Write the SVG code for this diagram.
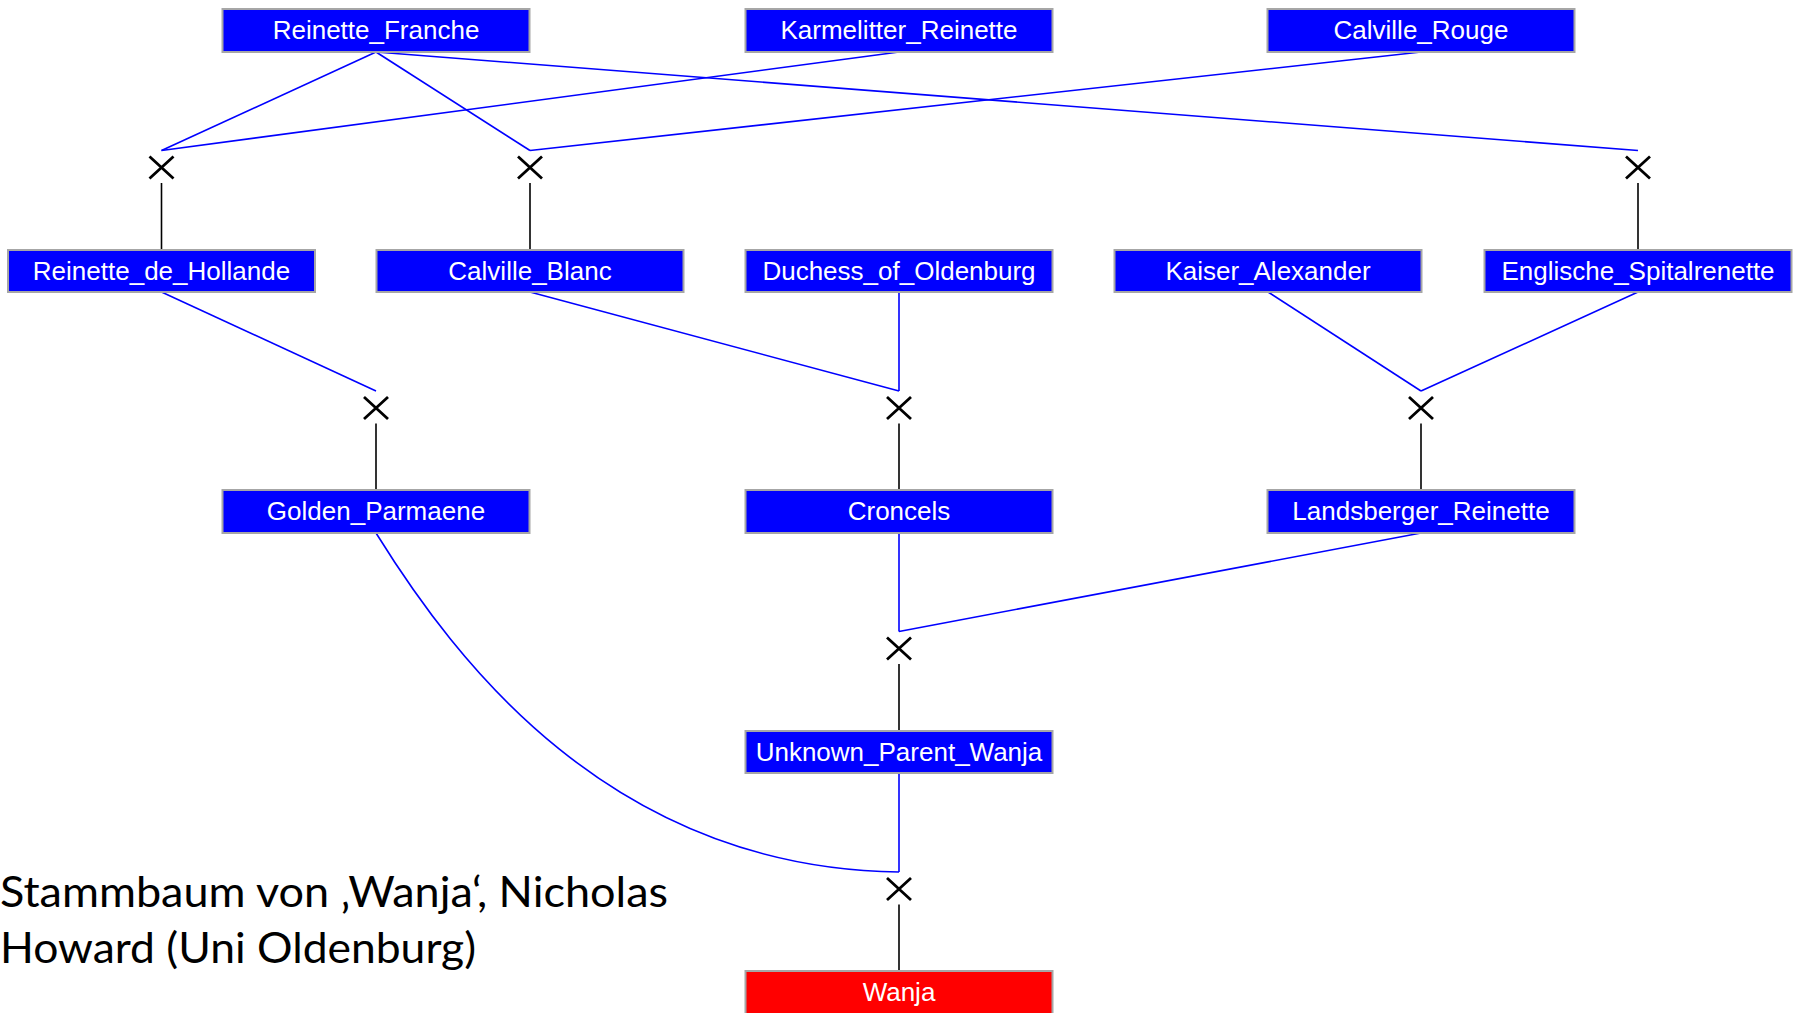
<svg xmlns="http://www.w3.org/2000/svg" width="1796" height="1013" viewBox="0 0 1796 1013">
<defs>
<style>
.box{fill:#0000ff;stroke:#a6a6a6;stroke-width:2}
.red{fill:#ff0000;stroke:#a6a6a6;stroke-width:2}
.lbl{font-family:"Liberation Sans",Arial,sans-serif;font-size:26px;fill:#ffffff;text-anchor:middle}
.blue{stroke:#0000ff;stroke-width:1.6;fill:none}
.blk{stroke:#000000;stroke-width:1.6;fill:none}
.x{stroke:#000000;stroke-width:2.8;fill:none}
.cap{font-family:Lato,"Open Sans",sans-serif;font-size:42px;fill:#000000}
</style>
<g id="xmark"><path class="x" d="M-12,-11 L12,11 M12,-11 L-12,11"/></g>
</defs>
<rect width="1796" height="1013" fill="#ffffff"/>
<g id="connectors">
<path class="blue" d="M376,52 L161.5,150.5"/>
<path class="blue" d="M899,52 L161.5,150.5"/>
<path class="blue" d="M376,52 L530,150.5"/>
<path class="blue" d="M1421,52 L530,150.5"/>
<path class="blue" d="M376,52 L1638,150.5"/>
<path class="blk" d="M161.5,183 V250"/>
<path class="blk" d="M530,183 V250"/>
<path class="blk" d="M1638,183 V250"/>
<path class="blue" d="M161.5,292 L376,391"/>
<path class="blue" d="M530,292 L899,391"/>
<path class="blue" d="M899,292 L899,391"/>
<path class="blue" d="M1268,292 L1421,391"/>
<path class="blue" d="M1638,292 L1421,391"/>
<path class="blk" d="M376,423.5 V490"/>
<path class="blk" d="M899,423.5 V490"/>
<path class="blk" d="M1421,423.5 V490"/>
<path class="blue" d="M899,533 L899,631.5"/>
<path class="blue" d="M1421,533 L899,631.5"/>
<path class="blk" d="M899,664 V731"/>
<path class="blue" d="M899,773 L899,872"/>
<path class="blue" d="M376,533 C455,660 610,868 899,872"/>
<path class="blk" d="M899,904.5 V971"/>
</g>
<g id="crosses">
<use href="#xmark" x="161.5" y="167.5"/>
<use href="#xmark" x="530" y="167.5"/>
<use href="#xmark" x="1638" y="167.5"/>
<use href="#xmark" x="376" y="408"/>
<use href="#xmark" x="899" y="408"/>
<use href="#xmark" x="1421" y="408"/>
<use href="#xmark" x="899" y="648.5"/>
<use href="#xmark" x="899" y="889"/>
</g>
<g id="Reinette_Franche"><rect class="box" x="222.5" y="9" width="307" height="43"/><text class="lbl" x="376" y="39">Reinette_Franche</text></g>
<g id="Karmelitter_Reinette"><rect class="box" x="745.5" y="9" width="307" height="43"/><text class="lbl" x="899" y="39">Karmelitter_Reinette</text></g>
<g id="Calville_Rouge"><rect class="box" x="1267.5" y="9" width="307" height="43"/><text class="lbl" x="1421" y="39">Calville_Rouge</text></g>
<g id="Reinette_de_Hollande"><rect class="box" x="8" y="250" width="307" height="42"/><text class="lbl" x="161.5" y="280">Reinette_de_Hollande</text></g>
<g id="Calville_Blanc"><rect class="box" x="376.5" y="250" width="307" height="42"/><text class="lbl" x="530" y="280">Calville_Blanc</text></g>
<g id="Duchess_of_Oldenburg"><rect class="box" x="745.5" y="250" width="307" height="42"/><text class="lbl" x="899" y="280">Duchess_of_Oldenburg</text></g>
<g id="Kaiser_Alexander"><rect class="box" x="1114.5" y="250" width="307" height="42"/><text class="lbl" x="1268" y="280">Kaiser_Alexander</text></g>
<g id="Englische_Spitalrenette"><rect class="box" x="1484.5" y="250" width="307" height="42"/><text class="lbl" x="1638" y="280">Englische_Spitalrenette</text></g>
<g id="Golden_Parmaene"><rect class="box" x="222.5" y="490" width="307" height="43"/><text class="lbl" x="376" y="520">Golden_Parmaene</text></g>
<g id="Croncels"><rect class="box" x="745.5" y="490" width="307" height="43"/><text class="lbl" x="899" y="520">Croncels</text></g>
<g id="Landsberger_Reinette"><rect class="box" x="1267.5" y="490" width="307" height="43"/><text class="lbl" x="1421" y="520">Landsberger_Reinette</text></g>
<g id="Unknown_Parent_Wanja"><rect class="box" x="745.5" y="731" width="307" height="42"/><text class="lbl" x="899" y="761">Unknown_Parent_Wanja</text></g>
<g id="Wanja"><rect class="red" x="745.5" y="971" width="307" height="44"/><text class="lbl" x="899" y="1001">Wanja</text></g>
<g id="caption">
<text class="cap" x="0" y="907" textLength="668" lengthAdjust="spacingAndGlyphs">Stammbaum von ‚Wanja‘, Nicholas</text>
<text class="cap" x="0" y="963" textLength="476" lengthAdjust="spacingAndGlyphs">Howard (Uni Oldenburg)</text>
</g>
</svg>
